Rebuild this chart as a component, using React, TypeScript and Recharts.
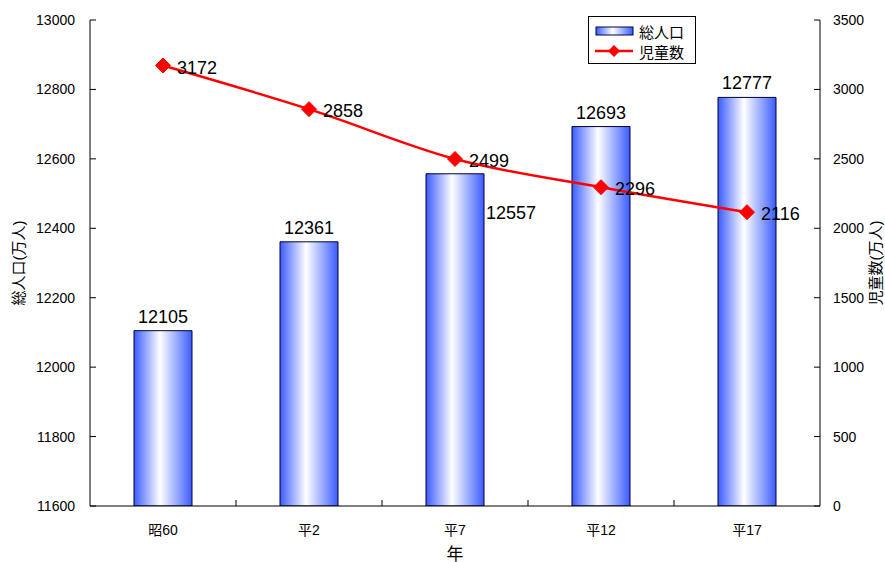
import React from 'react';
import { ComposedChart, Bar, Line, XAxis, YAxis, Legend, LabelList, Label } from 'recharts';

const categories = ['昭60', '平2', '平7', '平12', '平17'];
const totalPopulation = [12105, 12361, 12557, 12693, 12777];
const childCount = [3172, 2858, 2499, 2296, 2116];
const leftTicks = [11600, 11800, 12000, 12200, 12400, 12600, 12800, 13000];
const rightTicks = [0, 500, 1000, 1500, 2000, 2500, 3000, 3500];

const data = categories.map((c, i) => ({ category: c, total: totalPopulation[i], children: childCount[i] }));

const FONT = '"Liberation Sans", Arial, "Noto Sans CJK JP", sans-serif';
const BLUE = '#3a5cff';
const TICK_LEN = 6;

const BarValueLabel = (props: any) => {
  const { x, y, width, value, index } = props;
  if (index === 2) {
    return (
      <text x={x + width + 2} y={y + 39} textAnchor="start" dominantBaseline="central" fontSize={18} fontFamily={FONT} fill="#000">
        {value}
      </text>
    );
  }
  return (
    <text x={x + width / 2} y={y - 14} textAnchor="middle" dominantBaseline="central" fontSize={18} fontFamily={FONT} fill="#000">
      {value}
    </text>
  );
};

const LineValueLabel = (props: any) => {
  const { x, y, value } = props;
  return (
    <text x={x + 14} y={y + 2} textAnchor="start" dominantBaseline="central" fontSize={18} fontFamily={FONT} fill="#000">
      {value}
    </text>
  );
};

const Diamond = (props: any) => {
  const { cx, cy, index } = props;
  const r = 7.5;
  return <polygon key={`d-${index}`} points={`${cx},${cy - r} ${cx + r},${cy} ${cx},${cy + r} ${cx - r},${cy}`} fill="#ff0000" stroke="#ff0000" />;
};

// Category tick: label at the band centre, tick mark at the band's left boundary, pointing up into the plot
const CategoryTick = (props: any) => {
  const { x, y, payload } = props;
  const bx = payload.coordinate - (payload.offset || 0);
  return (
    <g>
      {payload.index > 0 && <line x1={bx} y1={y} x2={bx} y2={y - TICK_LEN} stroke="#000" />}
      <text x={x} y={y + 29} textAnchor="middle" fontSize={14} fontFamily={FONT} fill="#000">
        {payload.value}
      </text>
    </g>
  );
};

const LEFT_MARGIN = 15;
const LeftTick = (props: any) => {
  const { x, y, payload } = props;
  const ax = x + LEFT_MARGIN;
  return (
    <g>
      <line x1={ax} y1={y} x2={ax + TICK_LEN} y2={y} stroke="#000" />
      <text x={x} y={y} textAnchor="end" dominantBaseline="central" fontSize={14} fontFamily={FONT} fill="#000">
        {payload.value}
      </text>
    </g>
  );
};

const RIGHT_MARGIN = 13;
const RightTick = (props: any) => {
  const { x, y, payload } = props;
  const ax = x - RIGHT_MARGIN;
  return (
    <g>
      <line x1={ax} y1={y} x2={ax - TICK_LEN} y2={y} stroke="#000" />
      <text x={x} y={y} textAnchor="start" dominantBaseline="central" fontSize={14} fontFamily={FONT} fill="#000">
        {payload.value}
      </text>
    </g>
  );
};

const LegendBox = () => (
  <div
    style={{
      width: 108,
      height: 48,
      boxSizing: 'border-box',
      border: '1px solid #000',
      background: '#fff',
      fontFamily: FONT,
      fontSize: 15,
      padding: '4px 0 0 6px',
    }}
  >
    <div style={{ display: 'flex', alignItems: 'center', height: 20 }}>
      <svg width={40} height={14} style={{ display: 'block' }}>
        <defs>
          <linearGradient id="legendGrad" x1="0" y1="0" x2="1" y2="0">
            <stop offset="0%" stopColor={BLUE} />
            <stop offset="45%" stopColor="#ffffff" />
            <stop offset="100%" stopColor={BLUE} />
          </linearGradient>
        </defs>
        <rect x={1} y={3} width={37} height={8} fill="url(#legendGrad)" stroke="#000044" strokeWidth={1} />
      </svg>
      <span style={{ marginLeft: 4 }}>総人口</span>
    </div>
    <div style={{ display: 'flex', alignItems: 'center', height: 20 }}>
      <svg width={40} height={14} style={{ display: 'block' }}>
        <line x1={0} y1={7} x2={38} y2={7} stroke="#ff0000" strokeWidth={2.5} />
        <polygon points="19,1 25,7 19,13 13,7" fill="#ff0000" />
      </svg>
      <span style={{ marginLeft: 4 }}>児童数</span>
    </div>
  </div>
);

const LeftTitle = (props: any) => {
  const { viewBox } = props;
  const cx = viewBox.x + 18;
  const cy = viewBox.y + viewBox.height / 2;
  return (
    <text x={cx} y={cy} transform={`rotate(-90, ${cx}, ${cy})`} textAnchor="middle" dominantBaseline="central" fontSize={15} fontFamily={FONT} fill="#000">
      総人口(万人)
    </text>
  );
};

const RightTitle = (props: any) => {
  const { viewBox } = props;
  const cx = viewBox.x + 55;
  const cy = viewBox.y + viewBox.height / 2;
  return (
    <text x={cx} y={cy} transform={`rotate(-90, ${cx}, ${cy})`} textAnchor="middle" dominantBaseline="central" fontSize={15} fontFamily={FONT} fill="#000">
      児童数(万人)
    </text>
  );
};

const BottomTitle = (props: any) => {
  const { viewBox } = props;
  const cx = viewBox.x + viewBox.width / 2;
  const cy = viewBox.y + 48;
  return (
    <text x={cx} y={cy} textAnchor="middle" dominantBaseline="central" fontSize={17} fontFamily={FONT} fill="#000">
      年
    </text>
  );
};

export default function App() {
  return (
    <div style={{ position: 'absolute', left: 0, top: 0, width: 885, height: 562, background: '#fff' }}>
      <ComposedChart
        width={885}
        height={562}
        data={data}
        margin={{ top: 20, right: 0, bottom: 0, left: 0 }}
        style={{ fontFamily: FONT }}
      >
        <defs>
          <linearGradient id="barGrad" x1="0" y1="0" x2="1" y2="0">
            <stop offset="0%" stopColor={BLUE} />
            <stop offset="45%" stopColor="#ffffff" />
            <stop offset="100%" stopColor={BLUE} />
          </linearGradient>
        </defs>
        <XAxis
          dataKey="category"
          height={56}
          tickLine={false}
          tickSize={0}
          tickMargin={0}
          axisLine={{ stroke: '#000', strokeWidth: 1 }}
          tick={<CategoryTick />}
          interval={0}
        >
          <Label content={<BottomTitle />} />
        </XAxis>
        <YAxis
          yAxisId="left"
          width={90}
          domain={[11600, 13000]}
          ticks={leftTicks}
          allowDataOverflow
          tickSize={0}
          tickMargin={LEFT_MARGIN}
          axisLine={{ stroke: '#000' }}
          tickLine={false}
          tick={<LeftTick />}
          interval={0}
        >
          <Label content={<LeftTitle />} />
        </YAxis>
        <YAxis
          yAxisId="right"
          orientation="right"
          width={65}
          domain={[0, 3500]}
          ticks={rightTicks}
          allowDataOverflow
          tickSize={0}
          tickMargin={RIGHT_MARGIN}
          axisLine={{ stroke: '#000' }}
          tickLine={false}
          tick={<RightTick />}
          interval={0}
        >
          <Label content={<RightTitle />} />
        </YAxis>
        <Legend
          layout="horizontal"
          verticalAlign="middle"
          align="center"
          content={<LegendBox />}
          wrapperStyle={{ position: 'absolute', left: 588, top: 16, width: 108, height: 48 }}
        />
        <Bar
          yAxisId="left"
          dataKey="total"
          name="総人口"
          barSize={58}
          fill="url(#barGrad)"
          stroke="#000033"
          strokeWidth={1}
          isAnimationActive={false}
        >
          <LabelList dataKey="total" content={<BarValueLabel />} />
        </Bar>
        <Line
          yAxisId="right"
          type="monotone"
          dataKey="children"
          name="児童数"
          stroke="#ff0000"
          strokeWidth={2.5}
          dot={<Diamond />}
          activeDot={false}
          isAnimationActive={false}
        >
          <LabelList dataKey="children" content={<LineValueLabel />} />
        </Line>
      </ComposedChart>
    </div>
  );
}
